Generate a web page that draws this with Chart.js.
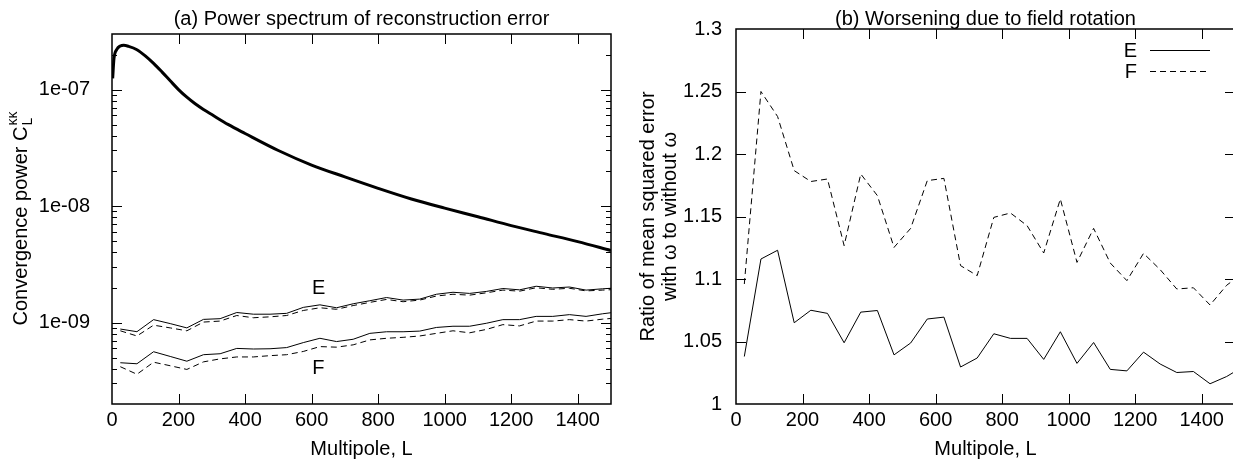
<!DOCTYPE html>
<html>
<head>
<meta charset="utf-8">
<script src="https://cdn.jsdelivr.net/npm/chart.js@4/dist/chart.umd.min.js"></script>
<style>
  html, body { margin: 0; padding: 0; background: #fff; overflow: hidden; width: 1233px; height: 468px; }
  #left { position: absolute; left: 0; top: 0; }
  #right { position: absolute; left: 620px; top: 0; }
</style>
</head>
<body>
<canvas id="left" width="620" height="468"></canvas>
<canvas id="right" width="620" height="468"></canvas>
<script>
// panel (a): signal spectrum
const specL = [2, 6, 14, 25, 35, 50, 75, 100, 125, 150, 175, 200, 225, 250, 275, 300, 350, 400, 500, 600, 700, 800, 900, 1000, 1100, 1200, 1300, 1400, 1500];
const specPower = [1.25e-7, 1.85e-7, 2.2e-7, 2.37e-7, 2.4e-7, 2.35e-7, 2.2e-7, 1.95e-7, 1.68e-7, 1.42e-7, 1.19e-7, 1.0e-7, 8.6e-8, 7.55e-8, 6.75e-8, 6.1e-8, 5.0e-8, 4.2e-8, 3.0e-8, 2.25e-8, 1.78e-8, 1.42e-8, 1.15e-8, 9.6e-9, 8.1e-9, 6.8e-9, 5.8e-9, 4.95e-9, 4.15e-9];

// binned reconstruction error (with / without field rotation)
const binL = [25, 75, 125, 175, 225, 275, 325, 375, 425, 475, 525, 575, 625, 675, 725, 775, 825, 875, 925, 975, 1025, 1075, 1125, 1175, 1225, 1275, 1325, 1375, 1425, 1475, 1525];
const eWith = [8.8e-10, 8.35e-10, 1.06e-9, 9.8e-10, 9.0e-10, 1.065e-9, 1.08e-9, 1.22e-9, 1.18e-9, 1.18e-9, 1.2e-9, 1.35e-9, 1.42e-9, 1.34e-9, 1.45e-9, 1.54e-9, 1.64e-9, 1.56e-9, 1.59e-9, 1.75e-9, 1.82e-9, 1.78e-9, 1.85e-9, 1.96e-9, 1.91e-9, 2.05e-9, 1.98e-9, 2.02e-9, 1.9e-9, 1.95e-9, 1.99e-9];
const eWithout = [8.5e-10, 7.67e-10, 9.5e-10, 9.0e-10, 8.5e-10, 1.01e-9, 1.03e-9, 1.15e-9, 1.1e-9, 1.12e-9, 1.15e-9, 1.27e-9, 1.34e-9, 1.3e-9, 1.4e-9, 1.49e-9, 1.58e-9, 1.51e-9, 1.56e-9, 1.69e-9, 1.75e-9, 1.72e-9, 1.8e-9, 1.9e-9, 1.86e-9, 1.99e-9, 1.93e-9, 1.97e-9, 1.87e-9, 1.9e-9, 1.93e-9];
const fWith = [4.52e-10, 4.43e-10, 5.62e-10, 5.12e-10, 4.66e-10, 5.3e-10, 5.4e-10, 6.0e-10, 5.93e-10, 5.96e-10, 6.1e-10, 6.73e-10, 7.33e-10, 6.87e-10, 7.19e-10, 8.08e-10, 8.34e-10, 8.34e-10, 8.45e-10, 9.08e-10, 9.3e-10, 9.3e-10, 9.86e-10, 1.06e-9, 1.06e-9, 1.13e-9, 1.13e-9, 1.17e-9, 1.13e-9, 1.19e-9, 1.24e-9];
const fWithout = [4.18e-10, 3.6e-10, 4.57e-10, 4.26e-10, 3.96e-10, 4.6e-10, 4.88e-10, 5.07e-10, 5.07e-10, 5.2e-10, 5.3e-10, 5.65e-10, 6.22e-10, 6.15e-10, 6.44e-10, 7.1e-10, 7.33e-10, 7.47e-10, 7.67e-10, 8.08e-10, 8.5e-10, 8.17e-10, 8.73e-10, 9.6e-10, 9.36e-10, 1.03e-9, 1.03e-9, 1.06e-9, 1.03e-9, 1.07e-9, 1.1e-9];

// panel (b): ratios
const ratioE = [1.038, 1.116, 1.123, 1.065, 1.075, 1.0725, 1.049, 1.0735, 1.0748, 1.0393, 1.0488, 1.068, 1.0695, 1.0296, 1.0368, 1.0562, 1.0525, 1.0525, 1.0357, 1.0578, 1.0325, 1.0492, 1.0277, 1.0265, 1.0415, 1.032, 1.0252, 1.026, 1.0162, 1.022, 1.03];
const ratioF = [1.096, 1.25, 1.23, 1.1867, 1.178, 1.18, 1.1267, 1.184, 1.1667, 1.1253, 1.1405, 1.1787, 1.1805, 1.1107, 1.1027, 1.1493, 1.1528, 1.1427, 1.1208, 1.164, 1.1133, 1.1405, 1.1128, 1.0987, 1.1205, 1.1075, 1.092, 1.093, 1.0792, 1.095, 1.105];

const xTicks = [0, 200, 400, 600, 800, 1000, 1200, 1400];
const powerTicks = [1e-9, 1e-8, 1e-7];
const powerTickLabels = ["1e-09", "1e-08", "1e-07"];
const ratioTicks = [1, 1.05, 1.1, 1.15, 1.2, 1.25, 1.3];
const ratioTickLabels = ["1", "1.05", "1.1", "1.15", "1.2", "1.25", "1.3"];

const FONT = '"Liberation Sans", Arial, sans-serif';
Chart.defaults.font.family = FONT;
Chart.defaults.font.size = 20;
Chart.defaults.color = '#000';

function pts(xs, ys) {
  return xs.map((x, i) => ({ x: x, y: ys[i] }));
}

// gnuplot-like frame: box, inward ticks on all sides, titles
const frame = {
  id: 'frame',
  afterDraw(chart, args, o) {
    const { ctx, chartArea: a, scales } = chart;
    const xs = scales.x, ys = scales.y;
    ctx.save();
    ctx.strokeStyle = '#000';
    ctx.lineWidth = 1;
    ctx.beginPath();
    xs.ticks.forEach(t => {
      const px = Math.round(xs.getPixelForValue(t.value)) + 0.5;
      if (px < a.left + 2 || px > a.right - 2) return;
      ctx.moveTo(px, a.bottom); ctx.lineTo(px, a.bottom - 10);
      ctx.moveTo(px, a.top); ctx.lineTo(px, a.top + 10);
    });
    ys.ticks.forEach(t => {
      const py = Math.round(ys.getPixelForValue(t.value)) + 0.5;
      if (py < a.top + 2 || py > a.bottom - 2) return;
      ctx.moveTo(a.left, py); ctx.lineTo(a.left + 10, py);
      ctx.moveTo(a.right, py); ctx.lineTo(a.right - 10, py);
    });
    (o.minor || []).forEach(v => {
      const py = Math.round(ys.getPixelForValue(v)) + 0.5;
      if (py < a.top + 2 || py > a.bottom - 2) return;
      ctx.moveTo(a.left, py); ctx.lineTo(a.left + 5, py);
      ctx.moveTo(a.right, py); ctx.lineTo(a.right - 5, py);
    });
    ctx.stroke();
    ctx.lineWidth = 1.5;
    ctx.strokeRect(a.left, a.top, a.right - a.left, a.bottom - a.top);

    ctx.fillStyle = '#000';
    ctx.font = '20px ' + FONT;
    ctx.textAlign = 'center';
    ctx.textBaseline = 'alphabetic';
    const cx = (a.left + a.right) / 2;
    ctx.fillText(o.title, cx, 25);
    ctx.fillText('Multipole, L', cx, 455);

    // rotated y title
    const cy = (a.top + a.bottom) / 2;
    ctx.translate(0, cy);
    ctx.rotate(-Math.PI / 2);
    if (o.ytitle) {
      ctx.textAlign = 'center';
      o.ytitle.forEach((line, i) => ctx.fillText(line, 0, o.ytitleX[i]));
    }
    if (o.ytitleRich) {
      const main = 'Convergence power C';
      ctx.font = '20px ' + FONT;
      const w1 = ctx.measureText(main).width;
      ctx.font = '14px ' + FONT;
      const w2 = Math.max(ctx.measureText('κκ').width, ctx.measureText('L').width);
      const x0 = -(w1 + w2) / 2;
      const bl = o.ytitleRich;
      ctx.textAlign = 'left';
      ctx.font = '20px ' + FONT;
      ctx.fillText(main, x0, bl);
      ctx.font = '14px ' + FONT;
      ctx.fillText('L', x0 + w1 + 1, bl + 5);
      ctx.fillText('κκ', x0 + w1 + 1, bl - 10);
    }
    ctx.restore();

    // text labels and legend
    ctx.save();
    ctx.font = '20px ' + FONT;
    ctx.fillStyle = '#000';
    (o.labels || []).forEach(l => {
      ctx.textAlign = 'center';
      ctx.textBaseline = 'middle';
      ctx.fillText(l.text, xs.getPixelForValue(l.x), ys.getPixelForValue(l.y));
    });
    if (o.legend) {
      chart.data.datasets.forEach((d, i) => {
        const y = o.legend.y + i * o.legend.gap;
        ctx.textAlign = 'right';
        ctx.textBaseline = 'middle';
        ctx.fillText(d.label, o.legend.textX, y + 1);
        ctx.beginPath();
        ctx.lineWidth = 1;
        ctx.strokeStyle = '#000';
        ctx.setLineDash(d.borderDash || []);
        ctx.moveTo(o.legend.x1, y + 0.5);
        ctx.lineTo(o.legend.x2, y + 0.5);
        ctx.stroke();
      });
    }
    ctx.restore();
  }
};

function baseScales(yw, yopts) {
  return {
    x: {
      type: 'linear', min: 0, max: 1500,
      grid: { display: false, drawTicks: false }, border: { display: false },
      afterBuildTicks: s => { s.ticks = xTicks.map(v => ({ value: v })); },
      afterFit: s => { s.height = 64; },
      ticks: { padding: 4, maxRotation: 0, autoSkip: false, callback: v => String(v) }
    },
    y: Object.assign({
      grid: { display: false, drawTicks: false }, border: { display: false },
      afterFit: s => { s.width = yw; }
    }, yopts)
  };
}

const minorLog = [];
[1e-10, 1e-9, 1e-8, 1e-7].forEach(d => { for (let k = 2; k <= 9; k++) minorLog.push(k * d); });

new Chart(document.getElementById('left'), {
  type: 'line',
  data: {
    datasets: [
      { label: 'signal', data: pts(specL, specPower), borderColor: '#000', borderWidth: 3, pointRadius: 0, cubicInterpolationMode: 'monotone' },
      { label: 'E with', data: pts(binL, eWith), borderColor: '#000', borderWidth: 1, pointRadius: 0 },
      { label: 'E without', data: pts(binL, eWithout), borderColor: '#000', borderWidth: 1, pointRadius: 0, borderDash: [6, 4] },
      { label: 'F with', data: pts(binL, fWith), borderColor: '#000', borderWidth: 1, pointRadius: 0 },
      { label: 'F without', data: pts(binL, fWithout), borderColor: '#000', borderWidth: 1, pointRadius: 0, borderDash: [6, 4] }
    ]
  },
  options: {
    responsive: false, animation: false, devicePixelRatio: 1,
    layout: { padding: { top: 29, right: 9, left: 0, bottom: 0 } },
    plugins: {
      legend: { display: false }, tooltip: { enabled: false },
      frame: {
        title: '(a) Power spectrum of reconstruction error',
        ytitleRich: 27,
        minor: minorLog,
        labels: [{ text: 'E', x: 621, y: 1.98e-9 }, { text: 'F', x: 620, y: 4.04e-10 }]
      }
    },
    scales: baseScales(112, {
      type: 'logarithmic', min: 2e-10, max: 3e-7,
      afterBuildTicks: s => { s.ticks = powerTicks.map(v => ({ value: v })); },
      ticks: { padding: 22, autoSkip: false, callback: (v) => powerTickLabels[powerTicks.indexOf(v)] }
    })
  },
  plugins: [frame]
});

new Chart(document.getElementById('right'), {
  type: 'line',
  data: {
    datasets: [
      { label: 'E', data: pts(binL, ratioE), borderColor: '#000', borderWidth: 1, pointRadius: 0 },
      { label: 'F', data: pts(binL, ratioF), borderColor: '#000', borderWidth: 1, pointRadius: 0, borderDash: [6, 4] }
    ]
  },
  options: {
    responsive: false, animation: false, devicePixelRatio: 1,
    layout: { padding: { top: 29, right: 5, left: 0, bottom: 0 } },
    plugins: {
      legend: { display: false }, tooltip: { enabled: false },
      frame: {
        title: '(b) Worsening due to field rotation',
        ytitle: ['Ratio of mean squared error', 'with ω to without ω'],
        ytitleX: [34, 56],
        legend: { y: 50, gap: 21, textX: 517, x1: 530, x2: 590 }
      }
    },
    scales: baseScales(116, {
      type: 'linear', min: 1, max: 1.3,
      afterBuildTicks: s => { s.ticks = ratioTicks.map(v => ({ value: v })); },
      ticks: { padding: 14, autoSkip: false, callback: (v) => ratioTickLabels[ratioTicks.indexOf(v)] }
    })
  },
  plugins: [frame]
});
</script>
</body>
</html>
